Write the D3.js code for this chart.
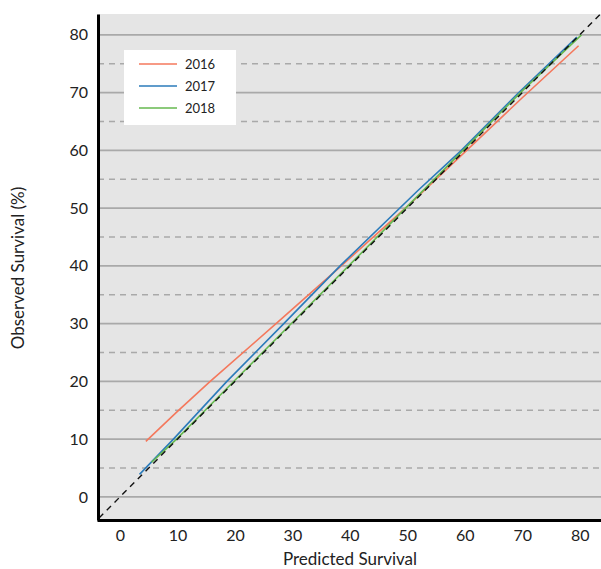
<!DOCTYPE html>
<html>
<head>
<meta charset="utf-8">
<script src="https://cdn.jsdelivr.net/npm/d3@7"></script>
<style>
  body { margin: 0; background: #fff; }
  text { font-family: Lato, "Noto Sans", sans-serif; fill: #222; }
</style>
</head>
<body>
<div id="chart"></div>
<script>
// Data
const years = ["2016", "2017", "2018"];
const colors = ["#f4785c", "#2b7bba", "#66b94f"];
const predicted2016 = [4.5, 10, 15.6, 27.5, 38.5, 50, 60, 70, 79.8];
const observed2016  = [9.6, 14.8, 19.9, 30.3, 40, 50.3, 59.7, 69.1, 78.1];
const predicted2017 = [3.4, 9.3, 18.6, 28.5, 38.3, 51.8, 59.4, 69.4, 79.5];
const observed2017  = [3.9, 10, 20, 30, 40, 53, 60, 70, 79.6];
const predicted2018 = [5.5, 9.85, 20, 30, 40, 50, 60, 70, 80.3];
const observed2018  = [6.0, 10, 20.2, 30.2, 40.2, 50.3, 60.3, 70.3, 80.0];
const ticks = [0, 10, 20, 30, 40, 50, 60, 70, 80];
const minorTicks = [5, 15, 25, 35, 45, 55, 65, 75];

const series = [
  {name: years[0], color: colors[0], xs: predicted2016, ys: observed2016},
  {name: years[1], color: colors[1], xs: predicted2017, ys: observed2017},
  {name: years[2], color: colors[2], xs: predicted2018, ys: observed2018}
];

const W = 601, H = 569;
const plot = {left: 98, right: 601, top: 14, bottom: 520};

const svg = d3.select("#chart").append("svg")
    .attr("width", W)
    .attr("height", H);

const x = d3.scaleLinear().domain([-4, 83.7]).range([plot.left - 1, plot.right]);
const y = d3.scaleLinear().domain([-4, 83.6]).range([plot.bottom, plot.top]);

// plot background
svg.append("rect")
    .attr("x", plot.left).attr("y", plot.top)
    .attr("width", plot.right - plot.left).attr("height", plot.bottom - plot.top)
    .attr("fill", "#e5e5e5");

svg.append("clipPath").attr("id", "plotclip")
  .append("rect")
    .attr("x", plot.left).attr("y", plot.top)
    .attr("width", plot.right - plot.left).attr("height", plot.bottom - plot.top);

// grid lines
svg.selectAll("line.minor")
  .data(minorTicks)
  .enter().append("line")
    .attr("class", "minor")
    .attr("x1", plot.left).attr("x2", plot.right)
    .attr("y1", d => y(d)).attr("y2", d => y(d))
    .attr("stroke", "#a9a9a9")
    .attr("stroke-width", 1.5)
    .attr("stroke-dasharray", "6,5");

svg.selectAll("line.major")
  .data(ticks)
  .enter().append("line")
    .attr("class", "major")
    .attr("x1", plot.left).attr("x2", plot.right)
    .attr("y1", d => y(d)).attr("y2", d => y(d))
    .attr("stroke", "#a9a9a9")
    .attr("stroke-width", 1.8);

const g = svg.append("g").attr("clip-path", "url(#plotclip)");

// series lines
const line = d3.line()
    .x(d => x(d[0]))
    .y(d => y(d[1]));

g.selectAll("path.series")
  .data(series)
  .enter().append("path")
    .attr("class", "series")
    .attr("d", s => line(s.xs.map((v, i) => [v, s.ys[i]])))
    .attr("fill", "none")
    .attr("stroke", s => s.color)
    .attr("stroke-width", 1.6);

// identity line
g.append("path")
    .attr("d", line([[-5, -5], [90, 90]]))
    .attr("fill", "none")
    .attr("stroke", "#111")
    .attr("stroke-width", 1.4)
    .attr("stroke-dasharray", "6,5");

// axes
svg.append("g")
    .attr("transform", `translate(0,${plot.bottom})`)
    .call(d3.axisBottom(x).tickValues(ticks).tickSize(0).tickPadding(10))
    .call(a => a.select(".domain").attr("stroke", "#000").attr("stroke-width", 3))
    .call(a => a.selectAll("text").attr("font-size", 16).style("font-family", "Lato, 'Noto Sans', sans-serif"));

svg.append("g")
    .attr("transform", `translate(${plot.left},0)`)
    .call(d3.axisLeft(y).tickValues(ticks).tickSize(0).tickPadding(10))
    .call(a => a.select(".domain").attr("stroke", "#000").attr("stroke-width", 3))
    .call(a => a.selectAll("text").attr("font-size", 16).style("font-family", "Lato, 'Noto Sans', sans-serif"));

// axis titles
svg.append("text")
    .attr("x", 350).attr("y", 565)
    .attr("text-anchor", "middle")
    .attr("font-size", 17)
    .text("Predicted Survival");

svg.append("text")
    .attr("transform", "translate(24,268) rotate(-90)")
    .attr("text-anchor", "middle")
    .attr("font-size", 17)
    .text("Observed Survival (%)");

// legend
const legend = svg.append("g");
legend.append("rect")
    .attr("x", 124).attr("y", 50)
    .attr("width", 112).attr("height", 75)
    .attr("fill", "#fff");

legend.selectAll("line.key")
  .data(series)
  .enter().append("line")
    .attr("class", "key")
    .attr("x1", 139).attr("x2", 177)
    .attr("y1", (d, i) => 64 + i * 22).attr("y2", (d, i) => 64 + i * 22)
    .attr("stroke", d => d.color)
    .attr("stroke-width", 1.6);

legend.selectAll("text.key")
  .data(series)
  .enter().append("text")
    .attr("class", "key")
    .attr("x", 185)
    .attr("y", (d, i) => 64 + i * 22)
    .attr("dy", "0.35em")
    .attr("font-size", 13)
    .text(d => d.name);
</script>
</body>
</html>
